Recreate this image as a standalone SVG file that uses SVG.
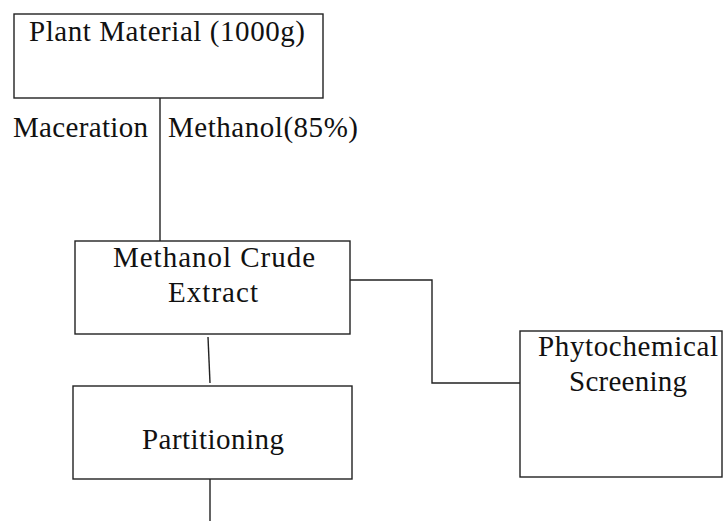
<svg xmlns="http://www.w3.org/2000/svg" width="725" height="521" viewBox="0 0 725 521">
<style>
.box{fill:#fff;stroke:#222;stroke-width:1.4}
.ln{fill:none;stroke:#222;stroke-width:1.4}
text{font-family:"Liberation Serif","Times New Roman",serif;font-size:29px;fill:#111}
</style>
<rect width="725" height="521" fill="#fff"/>
<g id="connectors">
<line class="ln" x1="160" y1="98" x2="160" y2="241"/>
<path class="ln" d="M350 280 H432 V383 H520"/>
<line class="ln" x1="208" y1="337" x2="210" y2="383"/>
<line class="ln" x1="210" y1="479" x2="210" y2="521"/>
</g>
<g id="labels">
<text x="13" y="137" textLength="135" lengthAdjust="spacing">Maceration</text>
<text x="168" y="137" textLength="190" lengthAdjust="spacing">Methanol(85%)</text>
</g>
<g id="plant-material">
<rect class="box" x="14" y="14" width="309" height="84"/>
<text x="29" y="41" textLength="276" lengthAdjust="spacing">Plant Material (1000g)</text>
</g>
<g id="crude-extract">
<rect class="box" x="75" y="241" width="275" height="93"/>
<text x="113" y="267" textLength="202" lengthAdjust="spacing">Methanol Crude</text>
<text x="168" y="302" textLength="90" lengthAdjust="spacing">Extract</text>
</g>
<g id="phytochemical-screening">
<rect class="box" x="520" y="331" width="202" height="146"/>
<text x="538" y="356" textLength="180" lengthAdjust="spacing">Phytochemical</text>
<text x="569" y="391" textLength="118" lengthAdjust="spacing">Screening</text>
</g>
<g id="partitioning">
<rect class="box" x="73" y="386" width="279" height="93"/>
<text x="142" y="449" textLength="142" lengthAdjust="spacing">Partitioning</text>
</g>
</svg>
